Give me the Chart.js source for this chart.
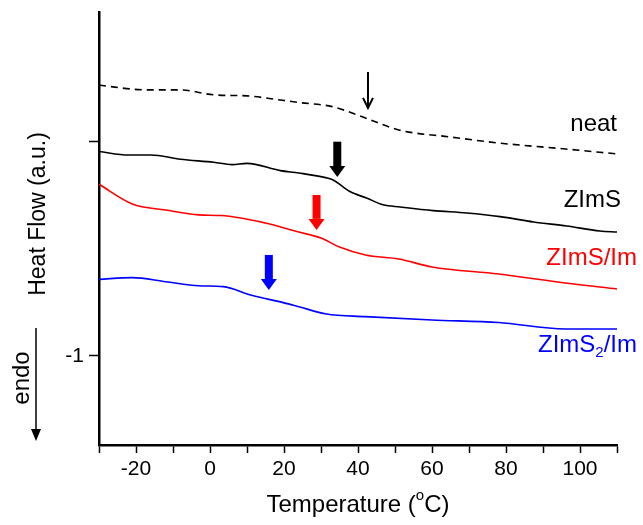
<!DOCTYPE html>
<html>
<head>
<meta charset="utf-8">
<script src="https://cdn.jsdelivr.net/npm/chart.js@4"></script>
<style>
  body { margin: 0; background: #fff; }
  #wrap { width: 643px; height: 525px; }
</style>
</head>
<body>
<div id="wrap"><canvas id="dscChart" width="643" height="525"></canvas></div>
<script>
// temperatures (°C) and heat flow (a.u.)
const neatT = [-30, -17, -8, 1, 10, 19, 24, 33, 42, 51, 65, 78, 96, 110];
const neatY = [0.265, 0.243, 0.243, 0.220, 0.215, 0.196, 0.184, 0.165, 0.112, 0.056, 0.023, -0.005, -0.033, -0.056];

const zimsT = [-30, -22, -16, -8, 1, 6, 10, 19, 24, 31.5, 33.3, 37.8, 42.3, 46.8, 51.4, 60.3, 69.4, 78.4, 87.4, 96.4, 105.4, 110];
const zimsY = [-0.045, -0.061, -0.061, -0.081, -0.095, -0.106, -0.100, -0.134, -0.145, -0.168, -0.178, -0.232, -0.262, -0.294, -0.304, -0.321, -0.332, -0.349, -0.374, -0.393, -0.416, -0.421];

const zimsImT = [-30, -21, -12, -3, 3, 15, 24, 30, 35, 42, 51, 60, 78, 96, 110];
const zimsImY = [-0.198, -0.290, -0.318, -0.341, -0.344, -0.379, -0.421, -0.449, -0.491, -0.528, -0.547, -0.584, -0.617, -0.659, -0.687];

const zims2ImT = [-30, -21, -12, -3, 3.6, 11, 20, 24, 31.5, 42, 60, 78, 96, 110];
const zims2ImY = [-0.642, -0.634, -0.653, -0.672, -0.676, -0.715, -0.752, -0.770, -0.804, -0.816, -0.832, -0.844, -0.874, -0.874];

// transition arrows: temperature, top and tip value
const arrowT = [42.7, 34.4, 28.8, 15.9];
const arrowTop = [0.327, 0.001, -0.248, -0.528];
const arrowTip = [0.159, -0.164, -0.411, -0.692];

const yTicks = [0, -1];

const FONT = '"Liberation Sans", Arial, sans-serif';

function pts(xs, ys) {
  return xs.map((x, i) => ({ x: x, y: ys[i] }));
}

function thickArrow(ctx, x, y1, y2, color) {
  const headH = 11, headW = 16, shaftW = 8;
  ctx.fillStyle = color;
  ctx.fillRect(x - shaftW / 2, y1, shaftW, y2 - y1 - headH);
  ctx.beginPath();
  ctx.moveTo(x - headW / 2, y2 - headH);
  ctx.lineTo(x + headW / 2, y2 - headH);
  ctx.lineTo(x, y2);
  ctx.closePath();
  ctx.fill();
}

function thinArrow(ctx, x, y1, y2) {
  ctx.strokeStyle = '#000';
  ctx.lineWidth = 2;
  ctx.beginPath();
  ctx.moveTo(x, y1);
  ctx.lineTo(x, y2);
  ctx.moveTo(x - 5, y2 - 10);
  ctx.lineTo(x, y2);
  ctx.lineTo(x + 5, y2 - 10);
  ctx.stroke();
}

const extras = {
  id: 'extras',
  afterDraw(chart) {
    const ctx = chart.ctx;
    const xs = chart.scales.x, ys = chart.scales.y;
    const area = chart.chartArea;
    ctx.save();

    // arrows marking the transitions
    const colors = ['#000', '#000', '#ff0000', '#0000ff'];
    arrowT.forEach((t, i) => {
      const px = xs.getPixelForValue(t);
      const y1 = ys.getPixelForValue(arrowTop[i]);
      const y2 = ys.getPixelForValue(arrowTip[i]);
      if (i === 0) thinArrow(ctx, px, y1, y2);
      else thickArrow(ctx, px, y1, y2, colors[i]);
    });

    // curve labels
    ctx.font = '24px ' + FONT;
    ctx.textAlign = 'right';
    ctx.textBaseline = 'middle';
    ctx.fillStyle = '#000';
    ctx.fillText('neat', 617, 124);
    ctx.fillText('ZImS', 621, 200);
    ctx.fillStyle = '#ff0000';
    ctx.fillText('ZImS/Im', 637, 258);
    ctx.fillStyle = '#0000ff';
    ctx.font = '24px ' + FONT;
    const wa = ctx.measureText('ZImS').width;
    const wc = ctx.measureText('/Im').width;
    ctx.font = '15px ' + FONT;
    const wb = ctx.measureText('2').width;
    let lx = 637 - (wa + wb + wc);
    ctx.textAlign = 'left';
    ctx.font = '24px ' + FONT;
    ctx.fillText('ZImS', lx, 345);
    lx += wa;
    ctx.font = '15px ' + FONT;
    ctx.fillText('2', lx, 353);
    lx += wb;
    ctx.font = '24px ' + FONT;
    ctx.fillText('/Im', lx, 345);

    // x axis title with superscript degree
    ctx.fillStyle = '#000';
    const part1 = 'Temperature (', part2 = 'C)';
    ctx.font = '24px ' + FONT;
    const w1 = ctx.measureText(part1).width;
    const w2 = ctx.measureText(part2).width;
    ctx.font = '15px ' + FONT;
    const wo = ctx.measureText('o').width;
    let tx = (area.left + area.right) / 2 - (w1 + wo + w2) / 2;
    ctx.textAlign = 'left';
    ctx.font = '24px ' + FONT;
    ctx.fillText(part1, tx, 505);
    tx += w1;
    ctx.font = '15px ' + FONT;
    ctx.fillText('o', tx, 496);
    tx += wo;
    ctx.font = '24px ' + FONT;
    ctx.fillText(part2, tx, 505);

    // y axis title
    ctx.font = '23px ' + FONT;
    ctx.save();
    ctx.translate(39, 214);
    ctx.rotate(-Math.PI / 2);
    ctx.textAlign = 'center';
    ctx.fillText('Heat Flow (a.u.)', 0, 0);
    ctx.restore();

    // endo label and arrow
    ctx.font = '24px ' + FONT;
    ctx.save();
    ctx.translate(22, 378);
    ctx.rotate(-Math.PI / 2);
    ctx.textAlign = 'center';
    ctx.fillText('endo', 0, 0);
    ctx.restore();
    ctx.strokeStyle = '#000';
    ctx.lineWidth = 1.5;
    ctx.beginPath();
    ctx.moveTo(36, 328);
    ctx.lineTo(36, 430);
    ctx.stroke();
    ctx.beginPath();
    ctx.moveTo(31, 429);
    ctx.lineTo(41, 429);
    ctx.lineTo(36, 441);
    ctx.closePath();
    ctx.fillStyle = '#000';
    ctx.fill();

    ctx.restore();
  }
};

const lineStyle = {
  pointRadius: 0,
  borderWidth: 1.6,
  fill: false,
  cubicInterpolationMode: 'monotone',
};

const ctx = document.getElementById('dscChart').getContext('2d');
const dscChart = new Chart(ctx, {
  type: 'line',
  data: {
    datasets: [
      { ...lineStyle, label: 'neat', data: pts(neatT, neatY), borderColor: '#000', borderDash: [7, 5] },
      { ...lineStyle, label: 'ZImS', data: pts(zimsT, zimsY), borderColor: '#000' },
      { ...lineStyle, label: 'ZImS/Im', data: pts(zimsImT, zimsImY), borderColor: '#ff0000' },
      { ...lineStyle, label: 'ZImS2/Im', data: pts(zims2ImT, zims2ImY), borderColor: '#0000ff' },
    ],
  },
  options: {
    responsive: false,
    animation: false,
    devicePixelRatio: 1,
    layout: { padding: { top: 12, right: 26, left: 0, bottom: 0 } },
    plugins: { legend: { display: false }, tooltip: { enabled: false } },
    scales: {
      x: {
        type: 'linear',
        min: -30,
        max: 110,
        afterFit: (s) => { s.height = 80; s.paddingLeft = 0; s.paddingRight = 0; },
        ticks: {
          stepSize: 10,
          autoSkip: false,
          maxRotation: 0,
          padding: 4,
          color: '#000',
          font: { family: FONT, size: 21 },
          callback: (v) => (v % 20 === 0 && v > -30 && v < 110 ? v : ''),
        },
        grid: { drawOnChartArea: false, tickLength: 8, color: '#000', tickWidth: 1.5 },
        border: { color: '#000', width: 2.5 },
      },
      y: {
        type: 'linear',
        min: -1.416,
        max: 0.607,
        afterFit: (s) => { s.width = 99; s.paddingTop = 0; s.paddingBottom = 0; },
        afterBuildTicks: (s) => { s.ticks = yTicks.map((v) => ({ value: v })); },
        ticks: {
          padding: 5,
          color: '#000',
          font: { family: FONT, size: 21 },
          callback: (v) => (v === -1 ? '-1' : ''),
        },
        grid: { drawOnChartArea: false, tickLength: 10, color: '#000', tickWidth: 1.5 },
        border: { color: '#000', width: 2.5 },
      },
    },
  },
  plugins: [extras],
});
</script>
</body>
</html>
